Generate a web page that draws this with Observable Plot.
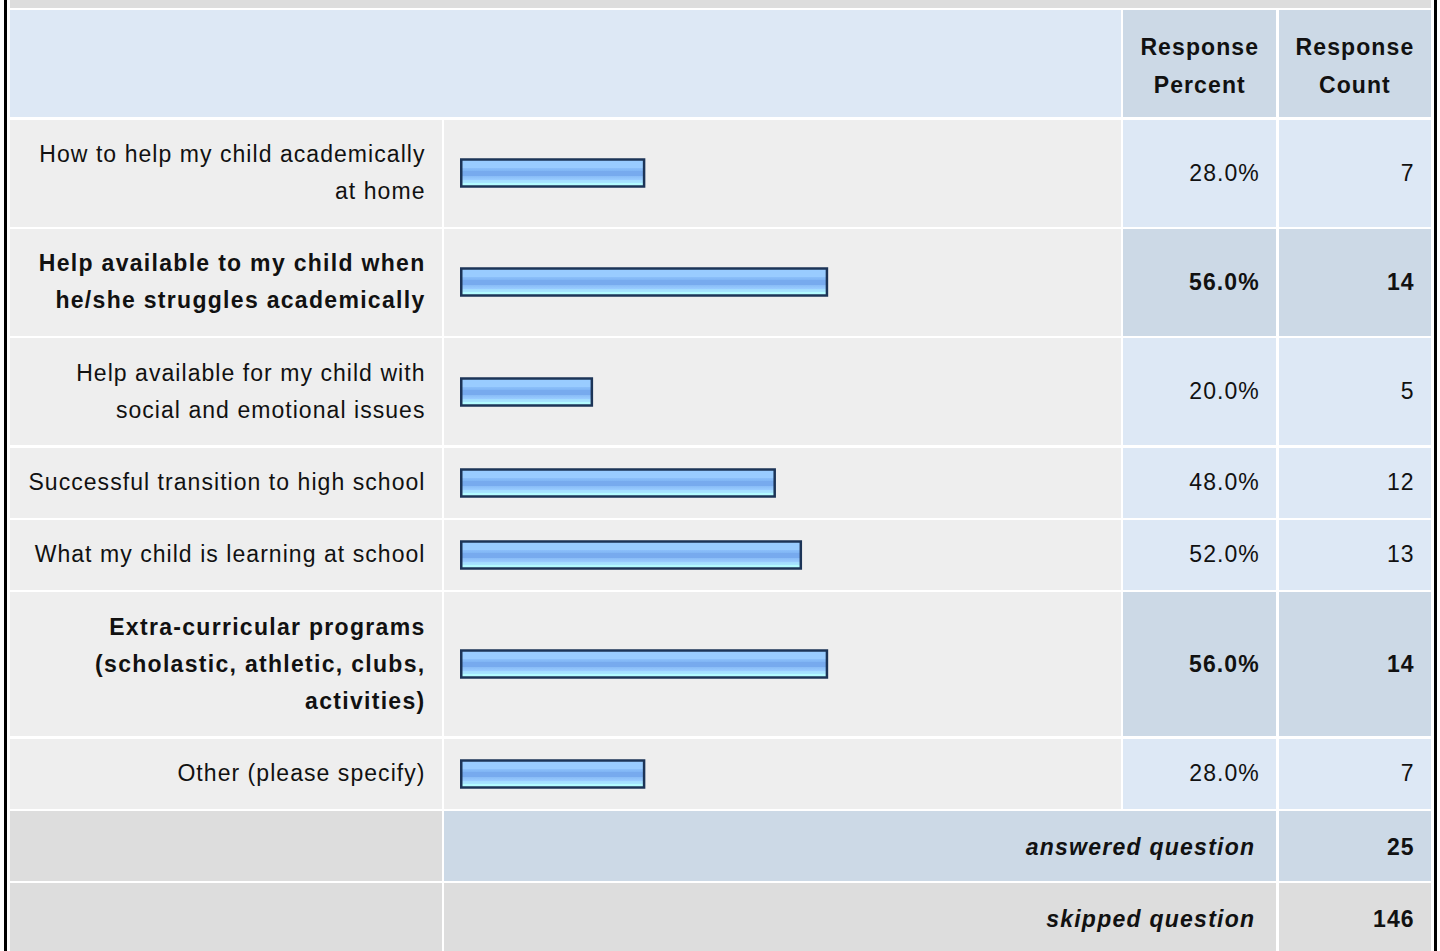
<!DOCTYPE html>
<html>
<head>
<meta charset="utf-8">
<script src="https://cdn.jsdelivr.net/npm/d3@7"></script>
<script src="https://cdn.jsdelivr.net/npm/@observablehq/plot@0.6"></script>
<style>
  html, body { margin: 0; padding: 0; background: #fff; width: 1440px; height: 951px; overflow: hidden; }
  #frame { position: absolute; left: 4px; top: 0; height: 960px; border-left: 3px solid #000; border-right: 3px solid #000; padding: 0 2.5px; }
  #grid { display: grid; grid-template-columns: 432px 677px 153px 152.5px; column-gap: 2.4px; row-gap: 2.33px; }
  .c { font-family: "Liberation Sans", Arial, Helvetica, sans-serif; font-size: 23px; letter-spacing: 1.05px; line-height: 37px; color: #111;
       padding: 16.5px 17px; display: flex; align-items: center; box-sizing: border-box; }
  .c > div { width: 100%; }
  .lab { background: #eeeeee; padding-left: 9px; padding-right: 16px; }
  .lab > div { text-align: right; }
  .num { background: #dde8f5; padding-right: 16.5px; }
  .num > div { text-align: right; }
  .hi { background: #ccd9e6; }
  .b { font-weight: bold; letter-spacing: 1.3px; }
  .num.b { letter-spacing: 1.1px; }
  .bar { background: #eeeeee; padding: 0; justify-content: flex-start; }
  .hd { background: #ccd9e6; font-weight: bold; padding: 18px 6px 13px 6px; line-height: 38px; letter-spacing: 1.1px; }
  .hd > div { text-align: center; }
  .hd0 { background: #dde8f5; }
  .title { background: #dddddd; height: 8px; grid-column: 1 / 5; padding: 0; }
  .gr { background: #dddddd; }
  .foot > div { text-align: right; font-weight: bold; font-style: italic; }
  .foot { padding-right: 21px; padding-top: 18px; padding-bottom: 15px; grid-column: 2 / 4; letter-spacing: 1.25px; }
  .fv { padding-top: 18px; padding-bottom: 15px; }
</style>
</head>
<body>
<div id="frame"><div id="grid"></div></div>
<script>
// ---- data ----
const categories = [
  "How to help my child academically at home",
  "Help available to my child when he/she struggles academically",
  "Help available for my child with social and emotional issues",
  "Successful transition to high school",
  "What my child is learning at school",
  "Extra-curricular programs (scholastic, athletic, clubs, activities)",
  "Other (please specify)"
];
const percents = [28.0, 56.0, 20.0, 48.0, 52.0, 56.0, 28.0];
const counts = [7, 14, 5, 12, 13, 14, 7];
const headers = ["Response Percent", "Response Count"];
const footerLabels = ["answered question", "skipped question"];
const footerValues = [25, 146];

const grid = document.getElementById("grid");
function cell(cls, text, extraStyle) {
  const d = document.createElement("div");
  d.className = "c " + cls;
  if (extraStyle) d.setAttribute("style", extraStyle);
  const inner = document.createElement("div");
  if (text != null) inner.textContent = text;
  d.appendChild(inner);
  grid.appendChild(d);
  return d;
}

// title band (bottom of the question row, cut off)
const t = document.createElement("div"); t.className = "title"; grid.appendChild(t);

// header
cell("hd0", "", "grid-column: 1 / 3;");
cell("hd", headers[0]);
cell("hd", headers[1]);

const maxP = d3.max(percents);
const x = { domain: [0, 100], range: [17.25, 670.25], axis: null };

categories.forEach((cat, i) => {
  const bold = percents[i] === maxP;
  cell("lab" + (bold ? " b" : ""), cat);
  const bc = cell("bar", null);
  const gid = "barGrad" + i;
  const svg = Plot.plot({
    width: 677, height: 40, margin: 0,
    x,
    style: { background: "transparent", overflow: "visible" },
    marks: [
      Plot.barX([{ pct: percents[i] }], {
        x: "pct", fill: `url(#${gid})`, stroke: "#1c3457", strokeWidth: 2.5,
        insetTop: 6.5, insetBottom: 6.5
      })
    ]
  });
  svg.insertAdjacentHTML("afterbegin",
    `<defs><linearGradient id="${gid}" x1="0" y1="0" x2="0" y2="1">
      <stop offset="0" stop-color="#99ccff"/>
      <stop offset="0.3" stop-color="#99ccff"/>
      <stop offset="0.31" stop-color="#8cc0fa"/>
      <stop offset="0.42" stop-color="#80b5f4"/>
      <stop offset="0.43" stop-color="#77aaee"/>
      <stop offset="0.6" stop-color="#77aaee"/>
      <stop offset="0.61" stop-color="#88bbf6"/>
      <stop offset="0.75" stop-color="#99ccff"/>
      <stop offset="0.76" stop-color="#a3dcff"/>
      <stop offset="0.87" stop-color="#a8e6ff"/>
      <stop offset="0.88" stop-color="#b3fbff"/>
      <stop offset="1" stop-color="#b3fbff"/>
    </linearGradient></defs>`);
  bc.firstChild.appendChild(svg);
  cell("num" + (bold ? " hi b" : ""), d3.format(".1f")(percents[i]) + "%");
  cell("num" + (bold ? " hi b" : ""), String(counts[i]));
});

// footer rows
footerLabels.forEach((lab, i) => {
  cell("gr", "");
  cell("foot " + (i === 0 ? "hi" : "gr"), lab);
  cell("num b fv " + (i === 0 ? "hi" : "gr"), String(footerValues[i]));
});
</script>
</body>
</html>
